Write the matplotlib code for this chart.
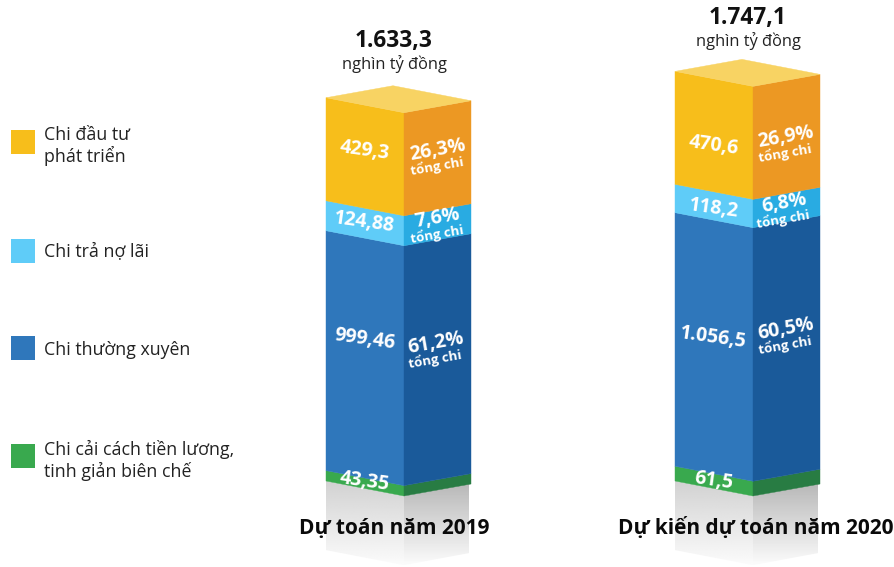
"""Vietnam state budget spending 2019 vs 2020, drawn as two pseudo-3D stacked columns."""
import matplotlib

matplotlib.use("Agg")
import matplotlib.pyplot as plt
import numpy as np
from matplotlib.patches import Polygon, Rectangle

plt.rcParams["font.family"] = ["Open Sans", "DejaVu Sans"]

# bottom to top
CATEGORIES = ["Chi cải cách tiền lương,\ntinh giản biên chế", "Chi thường xuyên", "Chi trả nợ lãi", "Chi đầu tư\nphát triển"]
VALUES_2019 = [43.35, 999.46, 124.88, 429.3]
VALUES_2020 = [61.5, 1056.5, 118.2, 470.6]
LABELS_2019 = ["43,35", "999,46", "124,88", "429,3"]
LABELS_2020 = ["61,5", "1.056,5", "118,2", "470,6"]
SHARES_2019 = [None, "61,2%", "7,6%", "26,3%"]
SHARES_2020 = [None, "60,5%", "6,8%", "26,9%"]
TOTALS = ["1.633,3", "1.747,1"]
UNIT = "nghìn tỷ đồng"
COLUMN_NAMES = ["Dự toán năm 2019", "Dự kiến dự toán năm 2020"]
SHARE_NOTE = "tổng chi"

LEFT_COLORS = ["#39A94E", "#2F77BB", "#5FCCF8", "#F7BE1B"]
RIGHT_COLORS = ["#287C43", "#1A5A9A", "#29ABE2", "#EC9823"]
TOP_COLOR = "#F8D363"

W, H = 894, 567
BASE_PX = 481
PX_PER_UNIT = 0.24


def ypx(py):
    # pixel row in the image -> value axis
    return (BASE_PX - py) / PX_PER_UNIT


def face(ax, xa, xb, da, db, v0, v1, color):
    pts = [(xa, v0 - da), (xb, v0 - db), (xb, v1 - db), (xa, v1 - da)]
    ax.add_patch(Polygon(pts, closed=True, fc=color, ec=color, lw=0.3, zorder=3))


def fade(ax, xa, xb, da, db, drop, start_grey, zorder=1):
    # grey reflection under the column, fading out to white
    v_top = max(-da, -db)
    v_bot = -max(da, db) - drop
    grad = np.linspace(start_grey, 0.985, 128).reshape(-1, 1)
    im = ax.imshow(grad, cmap="gray", vmin=0, vmax=1, aspect="auto", zorder=zorder,
                   extent=(xa, xb, v_bot, v_top), origin="upper")
    clip = Polygon([(xa, -da), (xb, -db), (xb, -db - drop), (xa, -da - drop)],
                   closed=True, transform=ax.transData, fc="none", ec="none")
    ax.add_patch(clip)
    im.set_clip_path(clip)


def column(ax, values, labels, shares, xl, xc, xr, xback, label_y, share_y, share_x):
    d_mid = 15 / PX_PER_UNIT
    d_right = 3 / PX_PER_UNIT
    d_back = -12 / PX_PER_UNIT

    fade(ax, xl, xc, 0, d_mid, 288, 0.82)
    fade(ax, xc, xr - 2, d_mid, d_right, 288, 0.72)

    stack = 0.0
    for i, val in enumerate(values):
        face(ax, xl, xc, 0, d_mid, stack, stack + val, LEFT_COLORS[i])
        face(ax, xc, xr, d_mid, d_right, stack, stack + val, RIGHT_COLORS[i])
        stack += val

    top = [(xl, stack), (xback, stack - d_back), (xr, stack - d_right), (xc, stack - d_mid)]
    ax.add_patch(Polygon(top, closed=True, fc=TOP_COLOR, ec=TOP_COLOR, lw=0.3, zorder=3))

    for i, lab in enumerate(labels):
        ax.text((xl + xc) / 2 - 0.5, ypx(label_y[i]), lab, color="white", fontsize=14, fontweight="bold",
                ha="center", va="center", rotation=-8, rotation_mode="anchor", zorder=5)
        if shares[i] is None:
            continue
        ax.text(share_x[i], ypx(share_y[i]), shares[i], color="white", fontsize=14, fontweight="bold",
                ha="center", va="center", rotation=10, rotation_mode="anchor", zorder=5)
        ax.text(share_x[i] - 1, ypx(share_y[i] + 16), SHARE_NOTE, color="white", fontsize=9.5, fontweight="bold",
                ha="center", va="center", rotation=10, rotation_mode="anchor", zorder=5)


def main():
    fig = plt.figure(figsize=(W / 100, H / 100), dpi=100)
    ax = fig.add_axes([0, 0, 1, 1])
    ax.axis("off")

    column(ax, VALUES_2019, LABELS_2019, SHARES_2019, 326, 404, 471, 393,
           [482, 339, 222, 151], [0, 343, 218, 150], [0, 436, 438, 438])
    column(ax, VALUES_2020, LABELS_2020, SHARES_2020, 675, 753, 820, 742,
           [481, 338, 209, 146], [0, 329, 203, 137], [0, 786, 784, 786])

    ax.set_xlim(0, W)
    ax.set_ylim(ypx(H), ypx(0))

    for x, py, total in [(394, 41, TOTALS[0]), (748, 18, TOTALS[1])]:
        ax.text(x, ypx(py), total, fontsize=16.3, fontweight="bold", color="#111111",
                ha="center", va="center", zorder=6)
        ax.text(x, ypx(py + 23), UNIT, fontsize=11.8, color="#222222", ha="center", va="center", zorder=6)

    for x, name in zip([394, 756], COLUMN_NAMES):
        ax.text(x, ypx(528.5), name, fontsize=15, fontweight="bold", color="#0A0A0A",
                ha="center", va="center", zorder=6)

    # legend, top to bottom in the image
    for i, py in zip([3, 2, 1, 0], [130, 239, 336, 444]):
        ax.add_patch(Rectangle((11, ypx(py + 24)), 24, 24 / PX_PER_UNIT, fc=LEFT_COLORS[i], ec="none", zorder=4))
    for i, py in zip([3, 2, 1, 0], [146, 251, 350, 460.5]):
        ax.text(44.5, ypx(py), CATEGORIES[i], fontsize=12.75, color="#222222", ha="left", va="center",
                linespacing=1.15, zorder=6)

    fig.savefig("out.png", dpi=100)
    plt.close(fig)


if __name__ == "__main__":
    main()
